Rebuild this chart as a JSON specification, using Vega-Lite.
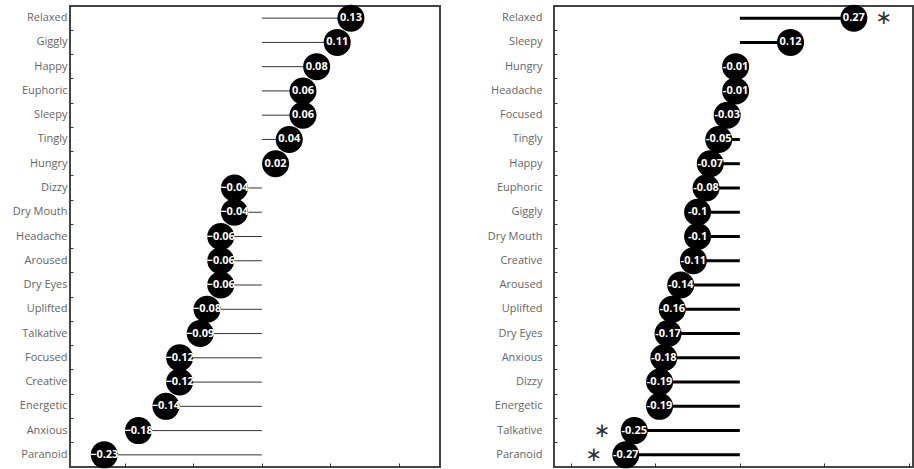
{
  "$schema": "https://vega.github.io/schema/vega-lite/v6.json",
  "padding": {"left": 11, "top": 3, "right": 0, "bottom": 0},
  "background": "white",
  "spacing": 45,
  "config": {
    "font": "Open Sans",
    "view": {"stroke": "#444", "strokeWidth": 2},
    "axis": {"grid": false, "domain": false, "title": null}
  },
  "datasets": {
    "left": [
      {"effect": "Relaxed", "value": 0.13},
      {"effect": "Giggly", "value": 0.11},
      {"effect": "Happy", "value": 0.08},
      {"effect": "Euphoric", "value": 0.06},
      {"effect": "Sleepy", "value": 0.06},
      {"effect": "Tingly", "value": 0.04},
      {"effect": "Hungry", "value": 0.02},
      {"effect": "Dizzy", "value": -0.04},
      {"effect": "Dry Mouth", "value": -0.04},
      {"effect": "Headache", "value": -0.06},
      {"effect": "Aroused", "value": -0.06},
      {"effect": "Dry Eyes", "value": -0.06},
      {"effect": "Uplifted", "value": -0.08},
      {"effect": "Talkative", "value": -0.09},
      {"effect": "Focused", "value": -0.12},
      {"effect": "Creative", "value": -0.12},
      {"effect": "Energetic", "value": -0.14},
      {"effect": "Anxious", "value": -0.18},
      {"effect": "Paranoid", "value": -0.23}
    ],
    "right": [
      {"effect": "Relaxed", "value": 0.27, "sig": true},
      {"effect": "Sleepy", "value": 0.12, "sig": false},
      {"effect": "Hungry", "value": -0.01, "sig": false},
      {"effect": "Headache", "value": -0.01, "sig": false},
      {"effect": "Focused", "value": -0.03, "sig": false},
      {"effect": "Tingly", "value": -0.05, "sig": false},
      {"effect": "Happy", "value": -0.07, "sig": false},
      {"effect": "Euphoric", "value": -0.08, "sig": false},
      {"effect": "Giggly", "value": -0.1, "sig": false},
      {"effect": "Dry Mouth", "value": -0.1, "sig": false},
      {"effect": "Creative", "value": -0.11, "sig": false},
      {"effect": "Aroused", "value": -0.14, "sig": false},
      {"effect": "Uplifted", "value": -0.16, "sig": false},
      {"effect": "Dry Eyes", "value": -0.17, "sig": false},
      {"effect": "Anxious", "value": -0.18, "sig": false},
      {"effect": "Dizzy", "value": -0.19, "sig": false},
      {"effect": "Energetic", "value": -0.19, "sig": false},
      {"effect": "Talkative", "value": -0.25, "sig": true},
      {"effect": "Paranoid", "value": -0.27, "sig": true}
    ]
  },
  "hconcat": [
    {
      "width": 370,
      "height": 461,
      "view": {"stroke": "#444", "strokeWidth": 2, "fill": "white"},
      "data": {"name": "left"},
      "encoding": {
        "y": {
          "field": "effect", "type": "nominal", "sort": null,
          "scale": {"paddingInner": 0, "paddingOuter": 0},
          "axis": {"bandPosition": 0, "tickSize": -3, "tickColor": "#333", "labelFontSize": 11, "labelColor": "#666", "labelPadding": 6}
        },
        "x": {
          "field": "value", "type": "quantitative",
          "scale": {"domain": [-0.28, 0.26], "nice": false, "zero": false},
          "axis": {"labels": false, "values": [-0.2, -0.1, 0, 0.1, 0.2], "tickSize": -4, "tickColor": "#333"}
        }
      },
      "layer": [
        {"mark": {"type": "rule", "color": "#333", "strokeWidth": 1}, "encoding": {"x2": {"datum": 0}}},
        {"mark": {"type": "circle", "size": 729, "opacity": 1, "color": "black"}},
        {"mark": {"type": "text", "color": "white", "fontSize": 11, "fontWeight": "bold"}, "encoding": {"text": {"field": "value", "type": "quantitative", "format": ".2~f"}}}
      ]
    },
    {
      "width": 359,
      "height": 461,
      "view": {"stroke": "#444", "strokeWidth": 2, "fill": "white"},
      "data": {"name": "right"},
      "transform": [{"calculate": "replace(format(datum.value, '.2~f'), '\u2212', '-')", "as": "label"}],
      "encoding": {
        "y": {
          "field": "effect", "type": "nominal", "sort": null,
          "scale": {"paddingInner": 0, "paddingOuter": 0},
          "axis": {"bandPosition": 0, "tickSize": -3, "tickColor": "#333", "labelFontSize": 11, "labelColor": "#666", "labelPadding": 15}
        },
        "x": {
          "field": "value", "type": "quantitative",
          "scale": {"domain": [-0.44, 0.41], "nice": false, "zero": false},
          "axis": {"labels": false, "values": [-0.4, -0.2, 0, 0.2, 0.4], "tickSize": -4, "tickColor": "#333"}
        }
      },
      "layer": [
        {"mark": {"type": "rule", "color": "black", "strokeWidth": 3}, "encoding": {"x2": {"datum": 0}}},
        {"mark": {"type": "circle", "size": 729, "opacity": 1, "color": "black"}},
        {"mark": {"type": "text", "color": "white", "fontSize": 11, "fontWeight": "bold"}, "encoding": {"text": {"field": "label", "type": "nominal"}}},
        {
          "transform": [{"filter": "datum.sig && datum.value > 0"}],
          "mark": {"type": "text", "text": "\u2217", "font": "DejaVu Sans", "fontSize": 20, "color": "#333", "dx": 30},
          "encoding": {}
        },
        {
          "transform": [{"filter": "datum.sig && datum.value < 0"}],
          "mark": {"type": "text", "text": "\u2217", "font": "DejaVu Sans", "fontSize": 20, "color": "#333", "dx": -32},
          "encoding": {}
        }
      ]
    }
  ]
}
